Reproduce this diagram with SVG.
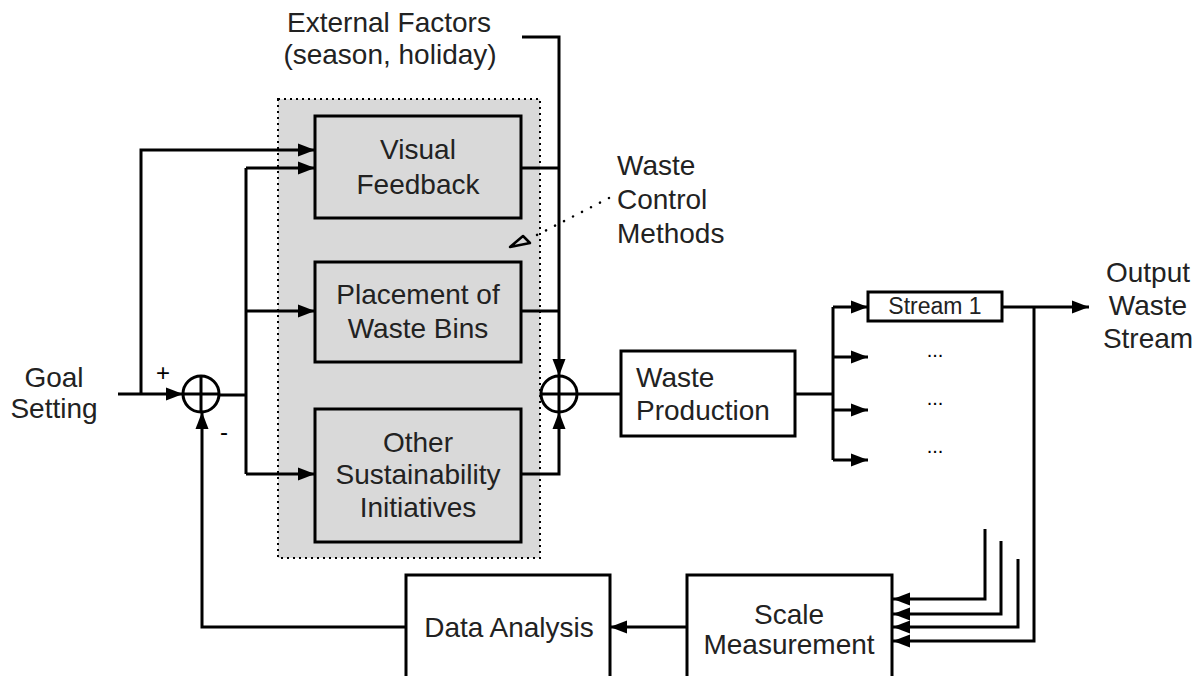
<svg xmlns="http://www.w3.org/2000/svg" width="1203" height="676" viewBox="0 0 1203 676">
  <style>
    text { font-family: "Liberation Sans", Arial, sans-serif; font-size: 28px; fill: #222; }
    .c { text-anchor: middle; }
    .box { fill: #fff; stroke: #000; stroke-width: 3; }
    .gbox { fill: #d9d9d9; stroke: #000; stroke-width: 3; }
    .wire { fill: none; stroke: #000; stroke-width: 3; }
    .arr { marker-end: url(#head); }
    .sum { fill: none; stroke: #000; stroke-width: 3; }
    .sign { font-size: 24px; fill: #000; }
    .more { font-size: 20px; fill: #000; }
  </style>
  <defs>
    <marker id="head" markerUnits="userSpaceOnUse" markerWidth="18" markerHeight="14" refX="17" refY="7" orient="auto">
      <path d="M0,0.5 L17,7 L0,13.5 z" fill="#000"/>
    </marker>
  </defs>

  <rect width="1203" height="676" fill="#fff"/>

  <!-- group enclosing the control methods -->
  <g id="control-methods">
    <rect x="278" y="99" width="262" height="459" fill="#d9d9d9" stroke="#000" stroke-width="2" stroke-dasharray="2,4"/>
  </g>

  <g id="external-factors">
    <text class="c" x="389" y="32">External Factors</text>
    <text class="c" x="390" y="64">(season, holiday)</text>
  </g>

  <g id="goal-setting">
    <text class="c" x="54" y="387">Goal</text>
    <text class="c" x="54" y="418">Setting</text>
  </g>

  <g id="visual-feedback">
    <rect class="gbox" x="315" y="116" width="206" height="102"/>
    <text class="c" x="418" y="159">Visual</text>
    <text class="c" x="418" y="194">Feedback</text>
  </g>

  <g id="placement-bins">
    <rect class="gbox" x="315" y="262" width="206" height="100"/>
    <text class="c" x="418" y="304">Placement of</text>
    <text class="c" x="418" y="338">Waste Bins</text>
  </g>

  <g id="other-initiatives">
    <rect class="gbox" x="315" y="409" width="206" height="133"/>
    <text class="c" x="418" y="452">Other</text>
    <text class="c" x="418" y="484">Sustainability</text>
    <text class="c" x="418" y="517">Initiatives</text>
  </g>

  <g id="sum-left">
    <circle class="sum" cx="201" cy="394" r="18"/>
    <path class="sum" d="M183,394 H219 M201,376 V412"/>
    <text class="c sign" x="163" y="381">+</text>
    <text class="c sign" x="224" y="440">-</text>
  </g>

  <g id="sum-right">
    <circle class="sum" cx="559" cy="394" r="18"/>
    <path class="sum" d="M541,394 H577 M559,376 V412"/>
  </g>

  <g id="waste-production">
    <rect class="box" x="621" y="351" width="174" height="85"/>
    <text x="636" y="387">Waste</text>
    <text x="636" y="420">Production</text>
  </g>

  <g id="stream-1">
    <rect class="box" x="868" y="292" width="134" height="29"/>
    <text class="c" x="935" y="314" style="font-size:23px">Stream 1</text>
  </g>

  <g id="other-streams">
    <text class="c more" x="935" y="357">...</text>
    <text class="c more" x="935" y="405">...</text>
    <text class="c more" x="935" y="453">...</text>
  </g>

  <g id="output-label">
    <text class="c" x="1148" y="282">Output</text>
    <text class="c" x="1148" y="315">Waste</text>
    <text class="c" x="1148" y="348">Stream</text>
  </g>

  <g id="scale-measurement">
    <rect class="box" x="687" y="575" width="205" height="110"/>
    <text class="c" x="789" y="624">Scale</text>
    <text class="c" x="789" y="654">Measurement</text>
  </g>

  <g id="data-analysis">
    <rect class="box" x="406" y="575" width="204" height="110"/>
    <text class="c" x="509" y="637">Data Analysis</text>
  </g>

  <g id="waste-control-label">
    <text x="617" y="175">Waste</text>
    <text x="617" y="209">Control</text>
    <text x="617" y="243">Methods</text>
    <path d="M609,198 L533,237" fill="none" stroke="#000" stroke-width="2.5" stroke-linecap="round" stroke-dasharray="0.1,10"/>
    <path d="M510,247 L523,236 L530,243 z" fill="#d9d9d9" stroke="#000" stroke-width="2.5" stroke-linejoin="round"/>
  </g>

  <g id="connectors">
    <!-- reference input and feed-forward branch -->
    <path class="wire arr" d="M118,394 H183"/>
    <path class="wire arr" d="M141,394 V150 H315"/>
    <!-- error signal to the control methods -->
    <path class="wire" d="M219,395 H246 M246,168 V474"/>
    <path class="wire arr" d="M246,168 H315"/>
    <path class="wire arr" d="M246,311 H315"/>
    <path class="wire arr" d="M246,474 H315"/>
    <!-- control method outputs to the second junction -->
    <path class="wire" d="M521,168 H558 M521,311 H558"/>
    <path class="wire arr" d="M522,37 H559 V376"/>
    <path class="wire arr" d="M521,474 H559 V412"/>
    <path class="wire" d="M577,394 H621"/>
    <!-- production split into streams -->
    <path class="wire" d="M795,394 H833 M833,307 V460"/>
    <path class="wire arr" d="M833,307 H868"/>
    <path class="wire arr" d="M833,357 H868"/>
    <path class="wire arr" d="M833,410 H868"/>
    <path class="wire arr" d="M833,460 H868"/>
    <path class="wire arr" d="M1002,307 H1089"/>
    <!-- streams measured on the scale -->
    <path class="wire arr" d="M985,529 V599 H893"/>
    <path class="wire arr" d="M1001,541 V614 H893"/>
    <path class="wire arr" d="M1018,559 V627 H893"/>
    <path class="wire arr" d="M1034,307 V641 H893"/>
    <!-- feedback path -->
    <path class="wire arr" d="M687,627 H610"/>
    <path class="wire arr" d="M406,627 H202 V412"/>
  </g>
</svg>
